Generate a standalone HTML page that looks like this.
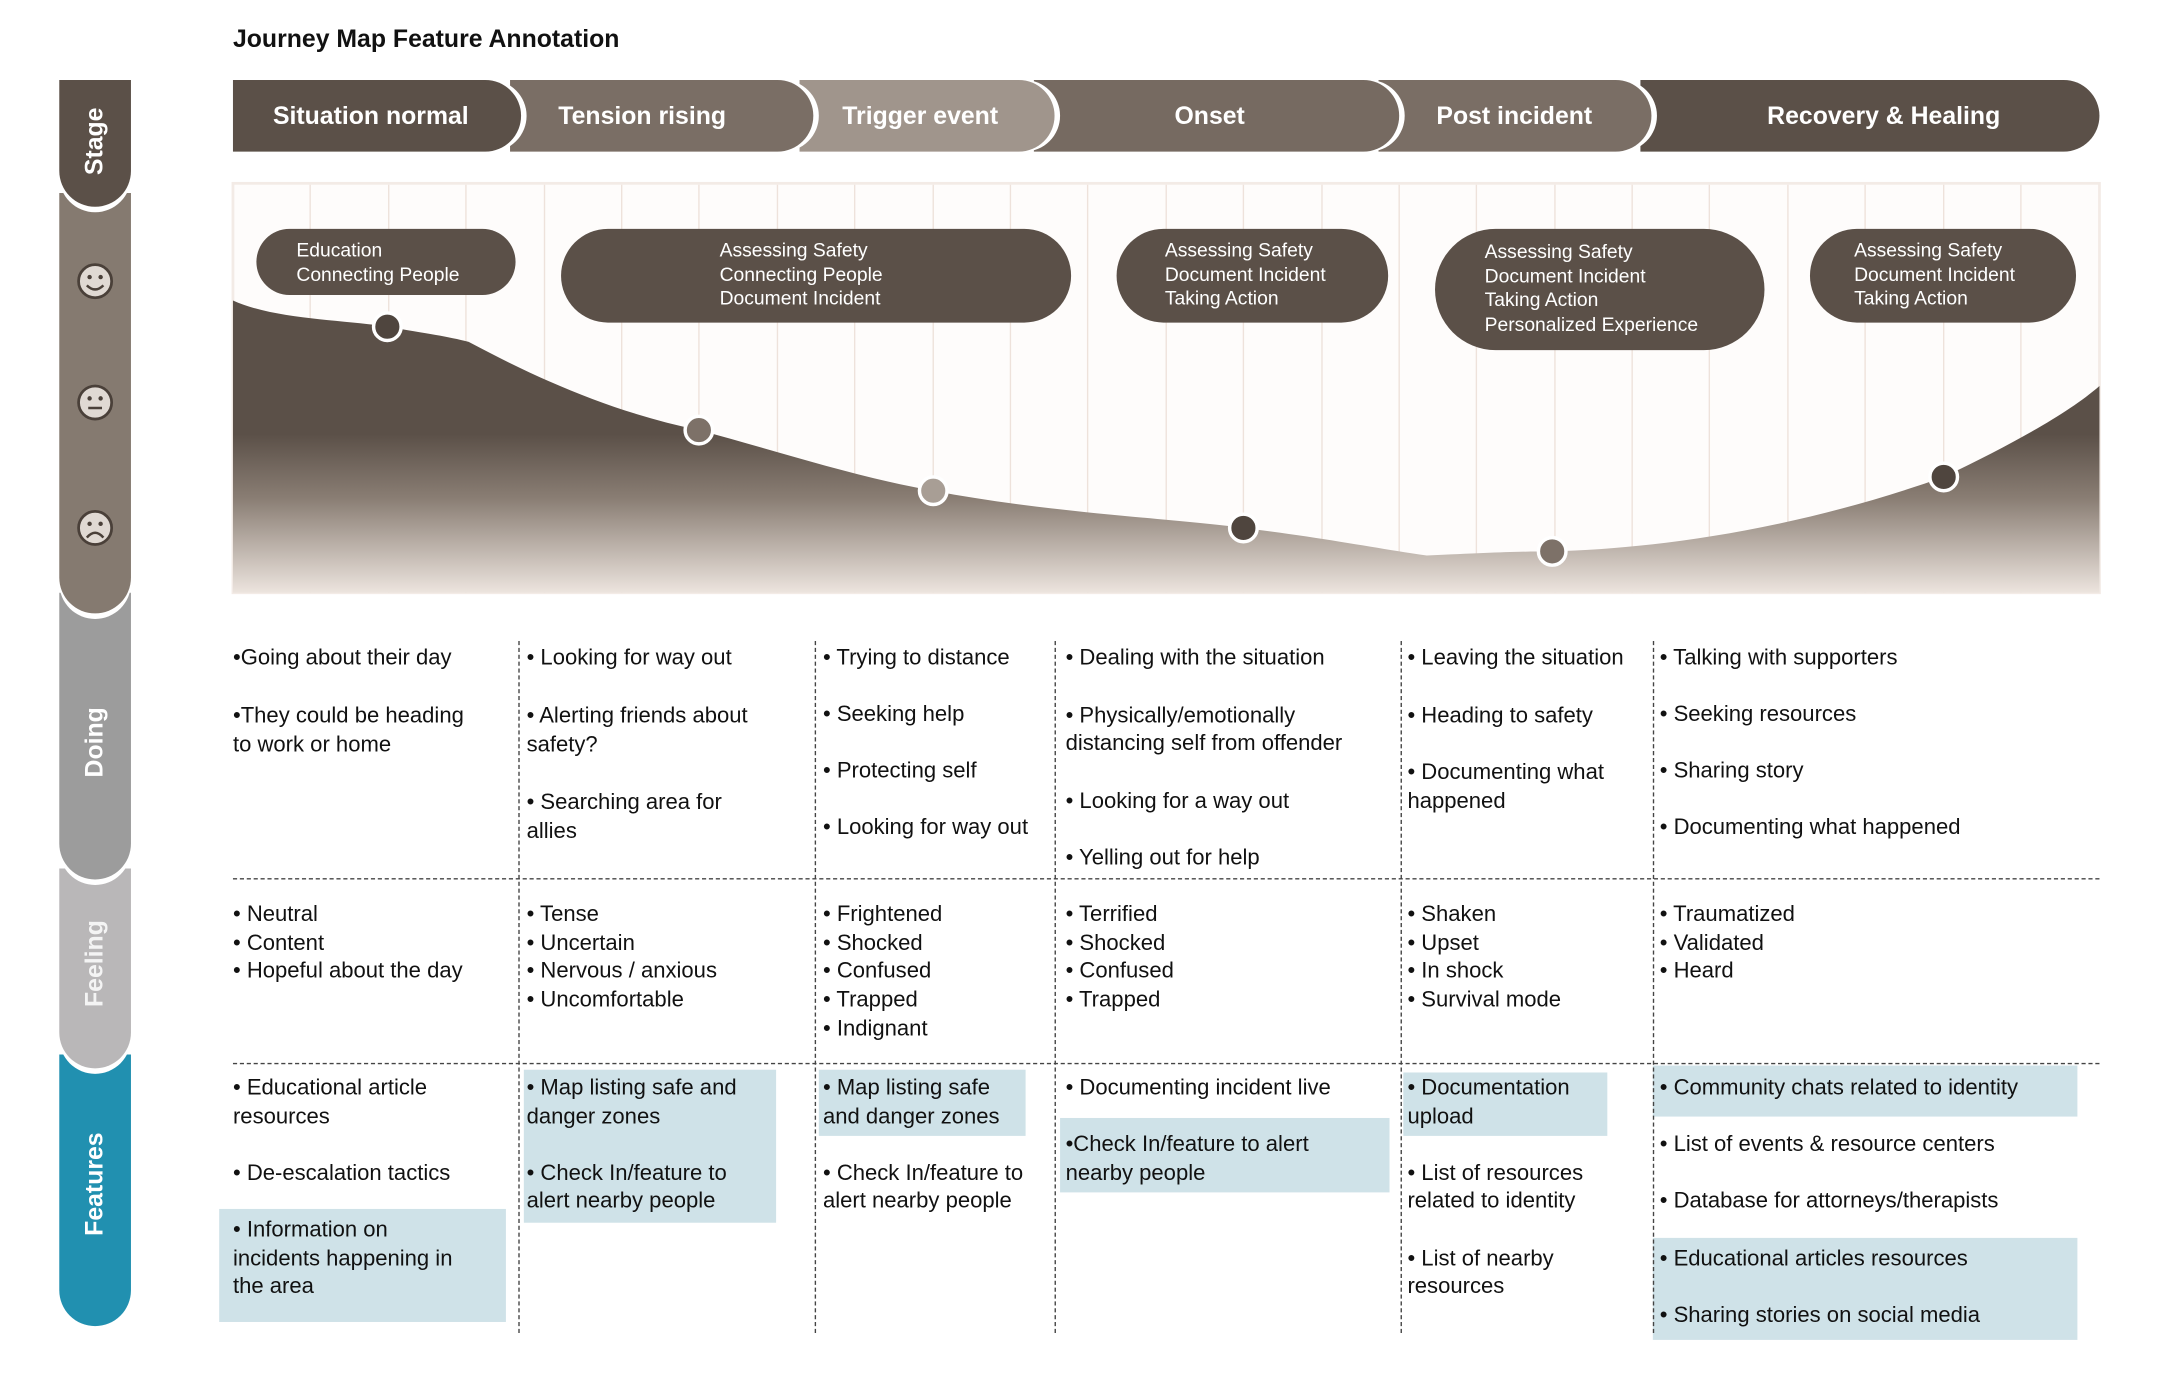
<!DOCTYPE html>
<html><head><meta charset="utf-8"><style>
html,body{margin:0;padding:0;background:#fff;}
body{width:2161px;height:1376px;overflow:hidden;}
#w{position:absolute;left:0;top:0;width:1551px;height:998px;transform:scale(1.3785);transform-origin:0 0;font-family:"Liberation Sans",sans-serif;color:#111;}
.a{position:absolute;}
.side{position:absolute;left:43px;width:52px;border-radius:0 0 26px 26px;box-shadow:0 4px 0 #fff;}
.sl{position:absolute;left:43px;width:52px;color:#fff;font-weight:bold;font-size:18px;transform:rotate(-90deg);text-align:center;}
.stg{position:absolute;top:58px;height:52px;border-radius:0 26px 26px 0;color:#fff;font-weight:bold;font-size:18px;line-height:52px;box-shadow:4px 0 0 #fff;}
.pill{position:absolute;background:#5b5048;color:#fff;font-size:14px;line-height:17.5px;border-radius:34px;box-sizing:border-box;}
.t{position:absolute;font-size:16px;line-height:21px;white-space:nowrap;}
.hl{position:absolute;background:#cfe2e8;}
.vd{position:absolute;top:465px;height:502px;border-left:1.5px dashed #444;}
.hd{position:absolute;left:169px;width:1354px;border-top:1.5px dashed #444;}
</style></head><body><div id="w">
<div class="a" style="left:169px;top:18px;font-weight:bold;font-size:18px;">Journey Map Feature Annotation</div>

<div class="side" style="top:765px;height:197px;background:#2190b0;z-index:1"></div>
<div class="side" style="top:630px;height:145px;background:#b9b7b8;z-index:2"></div>
<div class="side" style="top:430px;height:208px;background:#9c9c9c;z-index:3"></div>
<div class="side" style="top:140px;height:305px;background:#857a70;z-index:4"></div>
<div class="side" style="top:58px;height:92px;background:#5b5048;z-index:5"></div>
<div class="sl" style="top:92px;z-index:6">Stage</div>
<div class="sl" style="top:528px;z-index:6">Doing</div>
<div class="sl" style="top:694px;z-index:6;color:#f4f4f4">Feeling</div>
<div class="sl" style="top:860px;z-index:6">Features</div>
<svg class="a" style="left:43px;top:180px;z-index:7" width="52" height="230">
<g fill="#e0d9d3" stroke="#4a4039" stroke-width="2">
<circle cx="26" cy="24" r="12"/><circle cx="26" cy="112" r="12"/><circle cx="26" cy="203" r="12"/></g>
<g fill="#4a4039"><circle cx="22" cy="21" r="1.6"/><circle cx="30" cy="21" r="1.6"/><circle cx="22" cy="109" r="1.6"/><circle cx="30" cy="109" r="1.6"/><circle cx="22" cy="200" r="1.6"/><circle cx="30" cy="200" r="1.6"/></g>
<g fill="none" stroke="#4a4039" stroke-width="1.8"><path d="M20 27 Q26 33 32 27"/><path d="M21 116 H31"/><path d="M20 210 Q26 203 32 210"/></g>
</svg>

<div class="stg" style="left:1190px;width:333px;background:#5b5048;z-index:1;text-align:center;padding-left:20px;box-sizing:border-box;box-shadow:none">Recovery &amp; Healing</div>
<div class="stg" style="left:1000px;width:198px;background:#7a6e65;z-index:2;padding-left:42px;box-sizing:border-box">Post incident</div>
<div class="stg" style="left:750px;width:265px;background:#766a61;z-index:3;padding-left:102px;box-sizing:border-box">Onset</div>
<div class="stg" style="left:580px;width:185px;background:#a0958c;z-index:4;padding-left:31px;box-sizing:border-box">Trigger event</div>
<div class="stg" style="left:370px;width:220px;background:#7a6e65;z-index:5;padding-left:35px;box-sizing:border-box">Tension rising</div>
<div class="stg" style="left:169px;width:209px;background:#5b5048;z-index:6;padding-left:29px;box-sizing:border-box">Situation normal</div>

<svg class="a" style="left:0;top:0" width="1551" height="440">
<defs><linearGradient id="g" gradientUnits="userSpaceOnUse" x1="0" y1="315" x2="0" y2="432">
<stop offset="0" stop-color="#5b5048"/><stop offset="0.4" stop-color="#8a7e74"/><stop offset="1" stop-color="#efe7e1"/></linearGradient></defs>
<rect x="169" y="133" width="1354" height="297" fill="#fefcfb" stroke="#f3ebe6" stroke-width="2"/>
<g stroke="#eee2db" stroke-width="1">
<path d="M225 134V430M282 134V430M338 134V430M395 134V430M451 134V430M507 134V430M564 134V430M620 134V430M677 134V430M733 134V430M789 134V430M846 134V430M902 134V430M959 134V430M1015 134V430M1071 134V430M1128 134V430M1184 134V430M1240 134V430M1297 134V430M1353 134V430M1410 134V430M1466 134V430"/></g>
<path d="M169 218 C200 232 250 232 281 237 C310 242 325 244 340 248 C400 280 450 300 507 312 C560 326 620 346 677 356 C760 372 850 376 902 383 C960 390 1000 398 1035 403 C1080 401 1100 400 1126 400 C1200 398 1300 385 1410 346 C1460 322 1500 300 1523 280 V430 H169 Z" fill="url(#g)"/>
<g stroke="#fff" stroke-width="2.5">
<circle cx="281" cy="237" r="10" fill="#4f453e"/>
<circle cx="507" cy="312" r="10" fill="#7d7168"/>
<circle cx="677" cy="356" r="10" fill="#a89e95"/>
<circle cx="902" cy="383" r="10" fill="#4f453e"/>
<circle cx="1126" cy="400" r="10" fill="#7d7168"/>
<circle cx="1410" cy="346" r="10" fill="#4f453e"/>
</g></svg>
<div class="pill" style="left:186px;top:166px;width:188px;height:48px;padding:7px 0 0 29px;border-radius:24px">Education<br>Connecting People</div>
<div class="pill" style="left:407px;top:166px;width:370px;height:68px;padding:7px 0 0 115px">Assessing Safety<br>Connecting People<br>Document Incident</div>
<div class="pill" style="left:810px;top:166px;width:197px;height:68px;padding:7px 0 0 35px">Assessing Safety<br>Document Incident<br>Taking Action</div>
<div class="pill" style="left:1041px;top:166px;width:239px;height:88px;padding:8px 0 0 36px;border-radius:44px">Assessing Safety<br>Document Incident<br>Taking Action<br>Personalized Experience</div>
<div class="pill" style="left:1313px;top:166px;width:193px;height:68px;padding:7px 0 0 32px">Assessing Safety<br>Document Incident<br>Taking Action</div>

<div class="hl" style="left:159px;top:877px;width:208px;height:82px"></div>
<div class="hl" style="left:380px;top:776px;width:183px;height:111px"></div>
<div class="hl" style="left:594px;top:776px;width:150px;height:48px"></div>
<div class="hl" style="left:769px;top:811px;width:239px;height:54px"></div>
<div class="hl" style="left:1018px;top:778px;width:148px;height:46px"></div>
<div class="hl" style="left:1199px;top:773px;width:308px;height:37px"></div>
<div class="hl" style="left:1199px;top:898px;width:308px;height:74px"></div>

<div class="vd" style="left:376px"></div>
<div class="vd" style="left:591px"></div>
<div class="vd" style="left:765px"></div>
<div class="vd" style="left:1016px"></div>
<div class="vd" style="left:1199px"></div>
<div class="hd" style="top:637px"></div>
<div class="hd" style="top:771px"></div>

<div class="t" style="left:169px;top:467px">•Going about their day<br><br style="line-height:20px">•They could be heading<br>to work or home</div>
<div class="t" style="left:382px;top:467px">• Looking for way out<br><br style="line-height:20px">• Alerting friends about<br>safety?<br><br style="line-height:20px">• Searching area for<br>allies</div>
<div class="t" style="left:597px;top:468px;line-height:20.5px">• Trying to distance<br><br>• Seeking help<br><br>• Protecting self<br><br>• Looking for way out</div>
<div class="t" style="left:773px;top:468px;line-height:20.75px">• Dealing with the situation<br><br>• Physically/emotionally<br>distancing self from offender<br><br>• Looking for a way out<br><br>• Yelling out for help</div>
<div class="t" style="left:1021px;top:468px;line-height:20.75px">• Leaving the situation<br><br>• Heading to safety<br><br>• Documenting what<br>happened</div>
<div class="t" style="left:1204px;top:468px;line-height:20.5px">• Talking with supporters<br><br>• Seeking resources<br><br>• Sharing story<br><br>• Documenting what happened</div>

<div class="t" style="left:169px;top:654px;line-height:20.7px">• Neutral<br>• Content<br>• Hopeful about the day</div>
<div class="t" style="left:382px;top:654px;line-height:20.7px">• Tense<br>• Uncertain<br>• Nervous / anxious<br>• Uncomfortable</div>
<div class="t" style="left:597px;top:654px;line-height:20.7px">• Frightened<br>• Shocked<br>• Confused<br>• Trapped<br>• Indignant</div>
<div class="t" style="left:773px;top:654px;line-height:20.7px">• Terrified<br>• Shocked<br>• Confused<br>• Trapped</div>
<div class="t" style="left:1021px;top:654px;line-height:20.7px">• Shaken<br>• Upset<br>• In shock<br>• Survival mode</div>
<div class="t" style="left:1204px;top:654px;line-height:20.7px">• Traumatized<br>• Validated<br>• Heard</div>

<div class="t" style="left:169px;top:780px;line-height:20.6px">• Educational article<br>resources<br><br>• De-escalation tactics<br><br>• Information on<br>incidents happening in<br>the area</div>
<div class="t" style="left:382px;top:780px;line-height:20.6px">• Map listing safe and<br>danger zones<br><br>• Check In/feature to<br>alert nearby people</div>
<div class="t" style="left:597px;top:780px;line-height:20.6px">• Map listing safe<br>and danger zones<br><br>• Check In/feature to<br>alert nearby people</div>
<div class="t" style="left:773px;top:780px;line-height:20.6px">• Documenting incident live<br><br style="line-height:12px">•Check In/feature to alert<br>nearby people</div>
<div class="t" style="left:1021px;top:780px;line-height:20.6px">• Documentation<br>upload<br><br>• List of resources<br>related to identity<br><br>• List of nearby<br>resources</div>
<div class="t" style="left:1204px;top:780px;line-height:20.6px">• Community chats related to identity<br><br>• List of events &amp; resource centers<br><br>• Database for attorneys/therapists<br><br>• Educational articles resources<br><br>• Sharing stories on social media</div>
</div></body></html>
